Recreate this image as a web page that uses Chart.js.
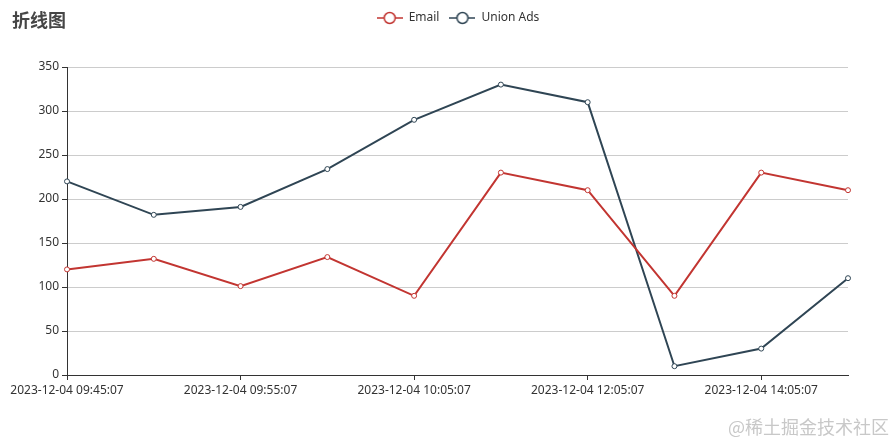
<!DOCTYPE html>
<html lang="zh-CN">
<head>
    <meta charset="UTF-8" />
    <script src="https://cdn.jsdelivr.net/npm/chart.js"></script>
    <title>折线图</title>
    <style>
        body { margin: 0; background: #fff; }
        .wrap { position: relative; width: 895px; height: 442px; }
        .title {
            position: absolute; left: 12px; top: 6px;
            font: bold 18px "Noto Sans CJK SC", sans-serif; color: #464646;
        }
        .mark {
            position: absolute; right: 6px; top: 413px;
            font: 18px "Noto Sans CJK SC", sans-serif; color: #c8c8c8;
        }
    </style>
</head>
<body>
    <div class="wrap">
        <canvas id="lineChart" width="895" height="442"></canvas>
        <div class="title">折线图</div>
        <div class="mark">@稀土掘金技术社区</div>
    </div>

<script>
    const times = [
        '2023-12-04 09:45:07', '2023-12-04 09:50:07', '2023-12-04 09:55:07', '2023-12-04 10:00:07',
        '2023-12-04 10:05:07', '2023-12-04 11:05:07', '2023-12-04 12:05:07', '2023-12-04 13:05:07',
        '2023-12-04 14:05:07', '2023-12-04 15:05:07'
    ];
    const emailData = [120, 132, 101, 134, 90, 230, 210, 90, 230, 210];
    const unionData = [220, 182, 191, 234, 290, 330, 310, 10, 30, 110];
    const yTicks = [0, 50, 100, 150, 200, 250, 300, 350];

    const EMAIL = '#c23531';
    const UNION = '#2f4554';

    // legend icon: line with an empty circle
    function legendIcon(color) {
        const c = document.createElement('canvas');
        c.width = 26; c.height = 14;
        const g = c.getContext('2d');
        g.strokeStyle = color;
        g.lineWidth = 1.5;
        g.beginPath(); g.moveTo(0, 7); g.lineTo(26, 7); g.stroke();
        g.beginPath(); g.arc(13, 7, 5.5, 0, Math.PI * 2);
        g.fillStyle = '#fff'; g.fill(); g.stroke();
        return c;
    }
    const icons = [legendIcon(EMAIL), legendIcon(UNION)];

    // legend takes the whole band above the plot, and sits a bit right of centre
    const legendSpace = {
        id: 'legendSpace',
        beforeInit(chart) {
            const fit = chart.legend.fit;
            chart.legend.fit = function () {
                fit.bind(chart.legend)();
                this.height = 67;
            };
        },
        afterLayout(chart) {
            const lg = chart.legend;
            lg.left += 34;
            lg.right += 34;
            lg.top += 2;
        }
    };

    const font = { family: '"Noto Sans", "Noto Sans CJK SC", sans-serif', size: 12 };

    new Chart(document.getElementById('lineChart'), {
        type: 'line',
        data: {
            labels: times,
            datasets: [{
                label: 'Email',
                data: emailData,
                borderColor: EMAIL,
                backgroundColor: '#fff',
                pointBackgroundColor: '#fff',
                pointBorderColor: EMAIL,
                borderWidth: 2,
                pointRadius: 2.5,
                pointBorderWidth: 1,
                tension: 0
            }, {
                label: 'Union Ads',
                data: unionData,
                borderColor: UNION,
                backgroundColor: '#fff',
                pointBackgroundColor: '#fff',
                pointBorderColor: UNION,
                borderWidth: 2,
                pointRadius: 2.5,
                pointBorderWidth: 1,
                tension: 0
            }]
        },
        options: {
            responsive: false,
            animation: false,
            layout: { padding: { left: 0, right: 47, top: 0, bottom: 37 } },
            scales: {
                x: {
                    afterFit(scale) { scale.height = 30; },
                    grid: {
                        drawOnChartArea: false,
                        tickLength: 5,
                        tickColor: ctx => (ctx.index % 2 ? 'transparent' : '#333')
                    },
                    border: { color: '#333' },
                    ticks: {
                        autoSkip: false,
                        maxRotation: 0,
                        padding: 3,
                        color: '#333',
                        font: font,
                        callback: function (v, i) { return i % 2 ? '' : this.getLabelForValue(v); }
                    }
                },
                y: {
                    min: 0,
                    max: 350,
                    afterFit(scale) { scale.width = 67; },
                    afterBuildTicks(scale) { scale.ticks = yTicks.map(v => ({ value: v })); },
                    grid: { color: '#cccccc', tickColor: '#333', tickLength: 5 },
                    border: { color: '#333' },
                    ticks: { color: '#333', padding: 3, font: font }
                }
            },
            plugins: {
                title: { display: false },
                tooltip: { enabled: false },
                legend: {
                    position: 'top',
                    labels: {
                        usePointStyle: true,
                        pointStyleWidth: 26,
                        boxHeight: 14,
                        padding: 10,
                        color: '#333',
                        font: font,
                        generateLabels(chart) {
                            return chart.data.datasets.map((ds, i) => ({
                                text: ds.label,
                                pointStyle: icons[i],
                                fillStyle: '#fff',
                                strokeStyle: ds.borderColor,
                                lineWidth: 0,
                                fontColor: '#333',
                                hidden: false,
                                datasetIndex: i
                            }));
                        }
                    }
                }
            }
        },
        plugins: [legendSpace]
    });
</script>
</body>
</html>
